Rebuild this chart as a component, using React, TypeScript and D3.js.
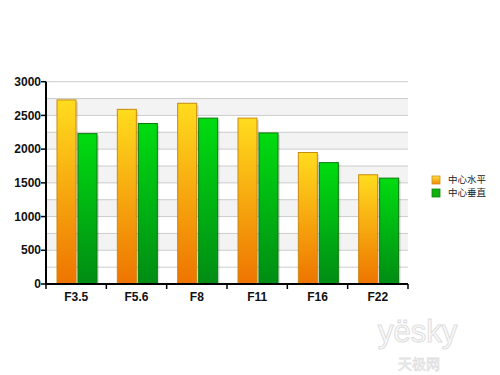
import React from "react";
import * as d3 from "d3";

const categories = ["F3.5", "F5.6", "F8", "F11", "F16", "F22"];
const seriesNames = ["中心水平", "中心垂直"];
const horizontal = [2730, 2590, 2680, 2460, 1950, 1620];
const vertical = [2230, 2380, 2460, 2240, 1800, 1570];
const yTicks = [0, 500, 1000, 1500, 2000, 2500, 3000];

export default function App() {
  const W = 500, H = 375;
  const left = 46, right = 408, top = 81.7, bottom = 284;
  const x = d3.scaleBand<string>().domain(categories).range([left, right]);
  const y = d3.scaleLinear().domain([0, 3000]).range([bottom, top]);
  const minor = d3.range(0, 3001, 250);
  const bands = d3.range(500, 3000, 500);
  const bw = 19;
  const series = [
    { vals: horizontal, grad: "gOrange", stroke: "#c98a10", off: 11 },
    { vals: vertical, grad: "gGreen", stroke: "#0a7a0a", off: 32 },
  ];
  return (
    <svg width={W} height={H} style={{ position: "absolute", left: 0, top: 0 }}>
      <defs>
        <linearGradient id="gOrange" x1="0" y1="0" x2="0" y2="1">
          <stop offset="0" stopColor="#ffdc1e" />
          <stop offset="1" stopColor="#ee7400" />
        </linearGradient>
        <linearGradient id="gGreen" x1="0" y1="0" x2="0" y2="1">
          <stop offset="0" stopColor="#00dc10" />
          <stop offset="1" stopColor="#008c14" />
        </linearGradient>
        <linearGradient id="lgO" x1="0" y1="0" x2="0" y2="1">
          <stop offset="0" stopColor="#ffe040" />
          <stop offset="1" stopColor="#f08a00" />
        </linearGradient>
      </defs>
      <rect width={W} height={H} fill="#ffffff" />
      {bands.map((b) => (
        <rect key={b} x={left} y={y(b + 250)} width={right - left} height={y(b) - y(b + 250)} fill="#f3f3f3" />
      ))}
      {minor.map((v) => (
        <line key={v} x1={left} x2={right} y1={y(v)} y2={y(v)} stroke="#cccccc" strokeWidth={1} />
      ))}
      {series.map((s, si) =>
        categories.map((c, i) => {
          const bx = (x(c) as number) + s.off;
          const by = y(s.vals[i]);
          return (
            <g key={si + "-" + c}>
              <rect x={bx + 2} y={by + 2} width={bw} height={bottom - by - 2} fill="#000" opacity={0.12} />
              <rect x={bx} y={by} width={bw} height={bottom - by} fill={`url(#${s.grad})`} stroke={s.stroke} strokeWidth={1} />
            </g>
          );
        })
      )}
      <line x1={left} x2={left} y1={top} y2={bottom} stroke="#000" strokeWidth={2} />
      <line x1={left - 1} x2={right} y1={bottom} y2={bottom} stroke="#000" strokeWidth={2} />
      {yTicks.map((t) => (
        <g key={t}>
          <line x1={left - 5} x2={left} y1={y(t)} y2={y(t)} stroke="#000" strokeWidth={1.5} />
          <text x={left - 5} y={y(t)} dy="0.35em" textAnchor="end" fontFamily="Liberation Sans, Arial, sans-serif" fontWeight="bold" fontSize={12} fill="#111">
            {t}
          </text>
        </g>
      ))}
      {categories.map((c) => (
        <line key={"tk" + c} x1={(x(c) as number)} x2={(x(c) as number)} y1={bottom} y2={bottom + 5} stroke="#000" strokeWidth={1.5} />
      ))}
      <line x1={right} x2={right} y1={bottom} y2={bottom + 5} stroke="#000" strokeWidth={1.5} />
      {categories.map((c) => (
        <text key={"lb" + c} x={(x(c) as number) + x.bandwidth() / 2} y={bottom + 17} textAnchor="middle" fontFamily="Liberation Sans, Arial, sans-serif" fontWeight="bold" fontSize={12} fill="#111">
          {c}
        </text>
      ))}
      {seriesNames.map((n, i) => (
        <g key={n} transform={`translate(432, ${176 + i * 13})`}>
          <rect x={0} y={0} width={8} height={8} fill={i === 0 ? "url(#lgO)" : "#10b010"} stroke={i === 0 ? "#d09020" : "#0a8a0a"} strokeWidth={0.8} />
          <text x={16} y={4} dy="0.35em" fontFamily="Noto Sans CJK SC" fontSize={9.5} fill="#222">
            {n}
          </text>
        </g>
      ))}
      <g opacity={0.55}>
        <text x={378} y={342} fontFamily="Liberation Sans, Arial, sans-serif" fontSize={31} fill="none" stroke="#c8c8c8" strokeWidth={1.2}>yësky</text>
        <text x={398} y={369} fontFamily="Noto Sans CJK SC" fontSize={14} fill="none" stroke="#c8c8c8" strokeWidth={0.8}>天极网</text>
      </g>
    </svg>
  );
}
